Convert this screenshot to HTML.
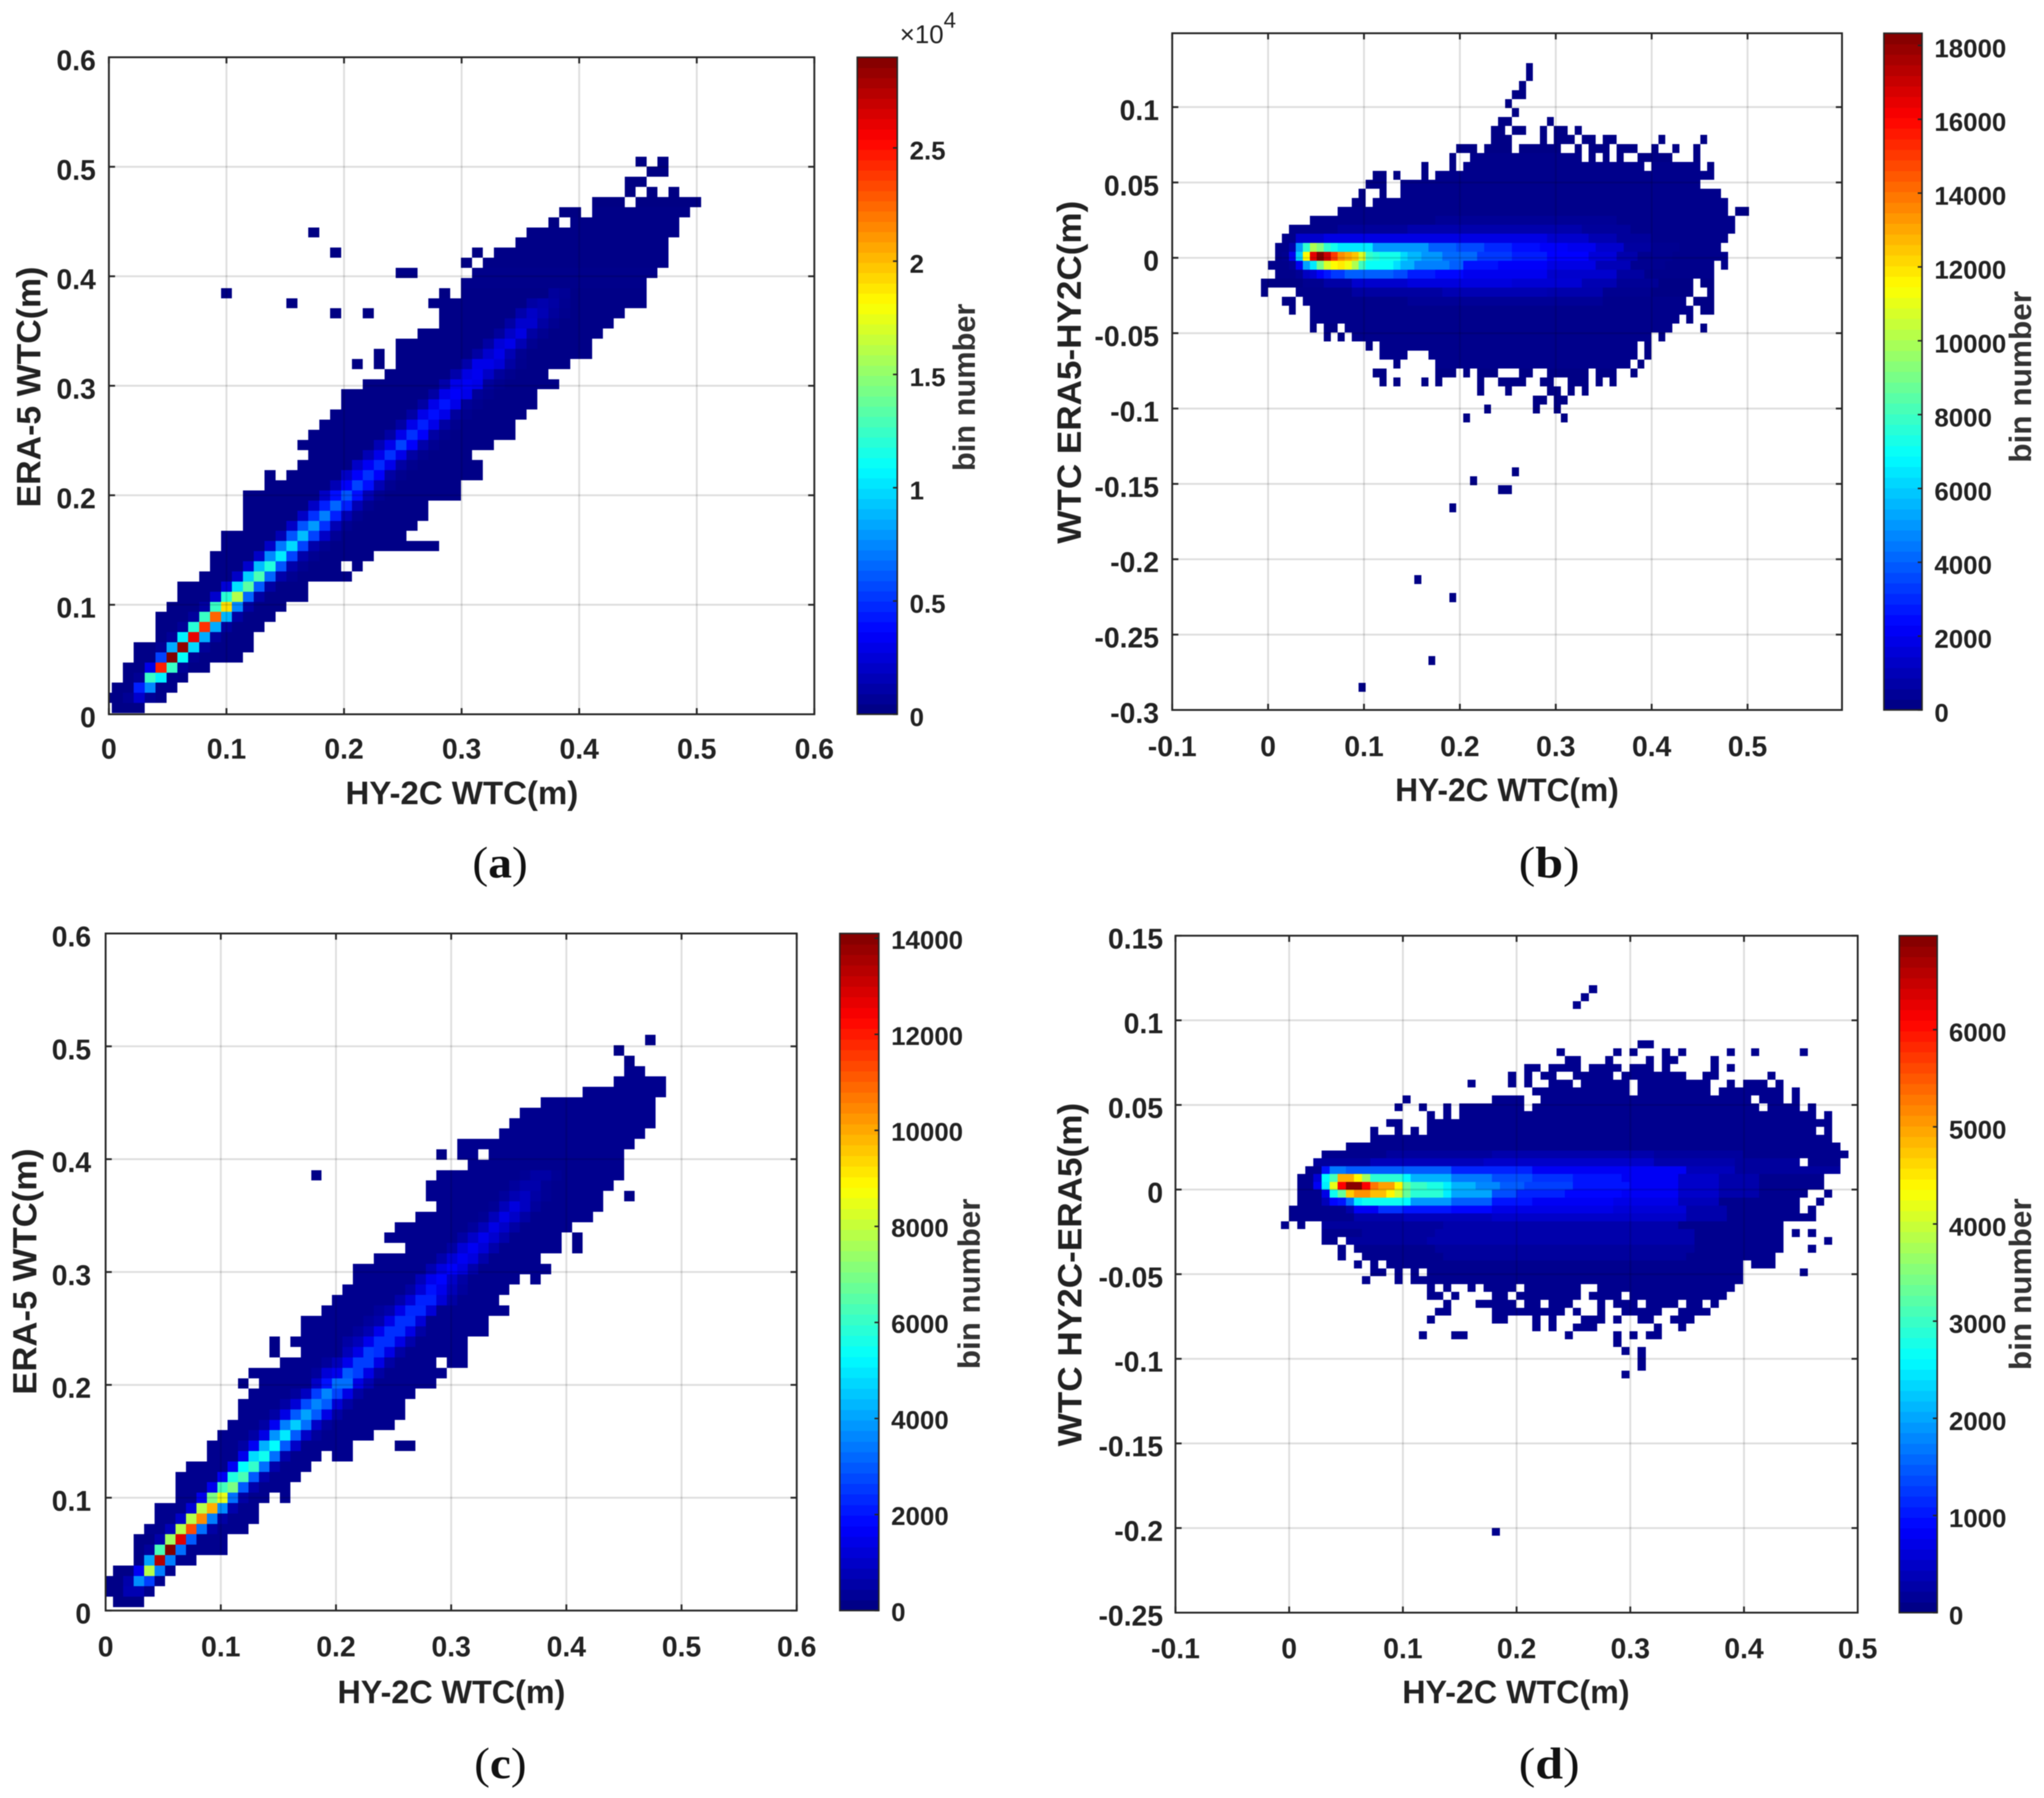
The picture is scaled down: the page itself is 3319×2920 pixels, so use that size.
<!DOCTYPE html>
<html lang="en">
<head>
<meta charset="utf-8">
<title>HY-2C and ERA-5 WTC density comparison</title>
<style>
html,body{margin:0;padding:0;background:#fff;}
svg{display:block;filter:blur(0.9px);}
text{font-family:"Liberation Sans",sans-serif;fill:#222;}
.tick{font-size:46px;font-weight:700;}
.cb{font-size:42px;font-weight:700;}
.xt{font-size:53px;font-weight:700;}
.yt{font-size:55px;font-weight:700;}
.bn{font-size:50px;font-weight:700;fill:#333;}
.cap{font-family:"Liberation Serif",serif;font-size:72px;fill:#111;}
</style>
</head>
<body>
<svg xmlns="http://www.w3.org/2000/svg" width="3319" height="2920" viewBox="0 0 3319 2920">
<rect x="0" y="0" width="3319" height="2920" fill="#fff"/>

<g id="panel-a"></g>
<g id="panel-b"></g>
<g id="panel-c"></g>
<g id="panel-d"></g>

<text class="xt" x="750" y="1306" text-anchor="middle" textLength="378" lengthAdjust="spacingAndGlyphs">HY-2C WTC(m)</text>
<text class="yt" transform="translate(65.6 628.5) rotate(-90)" text-anchor="middle" textLength="391" lengthAdjust="spacingAndGlyphs">ERA-5 WTC(m)</text>
<text class="bn" transform="translate(1583 629) rotate(-90)" text-anchor="middle" textLength="272" lengthAdjust="spacingAndGlyphs">bin number</text>
<text x="1461" y="70" font-size="42">×10<tspan dy="-25" font-size="36">4</tspan></text>
<text class="cap" x="767" y="1425" textLength="90" lengthAdjust="spacingAndGlyphs">(<tspan font-weight="700">a</tspan>)</text>

<text class="xt" x="2447" y="1301" text-anchor="middle" textLength="363" lengthAdjust="spacingAndGlyphs">HY-2C WTC(m)</text>
<text class="yt" transform="translate(1755 604.5) rotate(-90)" text-anchor="middle" textLength="557" lengthAdjust="spacingAndGlyphs">WTC ERA5-HY2C(m)</text>
<text class="bn" transform="translate(3298 612) rotate(-90)" text-anchor="middle" textLength="279" lengthAdjust="spacingAndGlyphs">bin number</text>
<text class="cap" x="2466" y="1425" textLength="99" lengthAdjust="spacingAndGlyphs">(<tspan font-weight="700">b</tspan>)</text>

<text class="xt" x="733" y="2766" text-anchor="middle" textLength="370" lengthAdjust="spacingAndGlyphs">HY-2C WTC(m)</text>
<text class="yt" transform="translate(59 2065) rotate(-90)" text-anchor="middle" textLength="400" lengthAdjust="spacingAndGlyphs">ERA-5 WTC(m)</text>
<text class="bn" transform="translate(1591 2085) rotate(-90)" text-anchor="middle" textLength="277" lengthAdjust="spacingAndGlyphs">bin number</text>
<text class="cap" x="770" y="2888" textLength="85" lengthAdjust="spacingAndGlyphs">(<tspan font-weight="700">c</tspan>)</text>

<text class="xt" x="2461.5" y="2766" text-anchor="middle" textLength="369" lengthAdjust="spacingAndGlyphs">HY-2C WTC(m)</text>
<text class="yt" transform="translate(1756 2070) rotate(-90)" text-anchor="middle" textLength="558" lengthAdjust="spacingAndGlyphs">WTC HY2C-ERA5(m)</text>
<text class="bn" transform="translate(3298 2085.6) rotate(-90)" text-anchor="middle" textLength="279" lengthAdjust="spacingAndGlyphs">bin number</text>
<text class="cap" x="2466" y="2888" textLength="99" lengthAdjust="spacingAndGlyphs">(<tspan font-weight="700">d</tspan>)</text>
</svg>

<script>
// Bin counts are in hundreds. Each row: [rowIndex, startColumn, run, count, run, count, ...]; count 0 = empty bin.
const countUnit = 100;

const aXTicks = [0, 0.1, 0.2, 0.3, 0.4, 0.5, 0.6];
const aXLabels = ['0', '0.1', '0.2', '0.3', '0.4', '0.5', '0.6'];
const aYTicks = [0, 0.1, 0.2, 0.3, 0.4, 0.5, 0.6];
const aYLabels = ['0', '0.1', '0.2', '0.3', '0.4', '0.5', '0.6'];
const aCbarTicks = [0, 5000, 10000, 15000, 20000, 25000];
const aCbarLabels = ['0', '0.5', '1', '1.5', '2', '2.5'];
const aRows = [
[0,0,3,2],[1,-1,2,2,1,6,1,22,1,6,1,3],[2,0,2,2,1,45,1,75,2,3],[3,1,1,2,1,6,1,125,1,105,1,3,1,2],
[4,1,2,2,1,30,1,245,1,125,1,6,2,2],[5,2,2,2,1,55,1,290,1,110,1,5,4,2],[6,2,2,2,1,6,1,85,1,285,1,98,1,7,4,2],
[7,4,1,2,1,7,1,105,1,260,1,85,1,8,3,2],[8,4,2,2,1,7,1,120,1,240,1,85,1,8,3,2],[9,4,3,2,1,8,1,125,1,225,1,88,1,10,3,2],
[10,5,3,2,1,10,1,125,1,190,1,75,1,10,3,2],[11,6,3,2,1,22,1,120,1,160,1,65,1,10,4,2],[12,6,4,2,1,25,1,100,1,135,1,62,1,10,3,2],
[13,8,3,2,1,20,1,95,1,130,1,65,1,12,1,5,5,2],[14,9,3,2,1,22,1,90,1,118,1,60,1,12,1,5,3,2,1,0,1,2],
[15,9,4,2,1,20,1,75,1,103,1,55,1,12,1,5,5,2],[16,10,4,2,1,20,1,70,1,98,1,55,1,12,1,5,10,2],
[17,10,5,2,1,15,1,60,1,90,1,55,1,20,1,6,6,2],[18,12,4,2,1,20,1,60,1,80,1,50,1,15,1,5,6,2],
[19,12,5,2,1,20,1,50,1,72,1,45,1,15,1,5,6,2],[20,12,6,2,1,20,1,45,1,65,1,45,1,15,1,5,5,2],
[21,12,7,2,1,20,1,40,1,60,1,40,1,15,1,5,7,2],[22,14,6,2,1,15,1,35,1,55,1,40,1,15,1,5,6,2],
[23,14,1,2,1,0,5,2,1,20,1,35,1,50,1,35,1,10,1,4,7,2],[24,17,5,2,1,20,1,33,1,48,1,30,1,10,1,4,6,2],
[25,18,5,2,1,15,1,30,1,50,1,30,1,10,1,4,4,2],[26,17,7,2,1,15,1,30,1,55,1,35,1,12,1,5,5,2],
[27,18,7,2,1,10,1,30,1,50,1,35,1,10,1,4,6,2],[28,19,7,2,1,10,1,30,1,45,1,30,1,10,1,4,5,2],
[29,20,7,2,1,10,1,30,1,40,1,30,1,8,1,4,5,2],[30,21,7,2,1,10,1,30,1,42,1,30,1,7,1,4,5,2],
[31,21,8,2,1,10,1,30,1,35,1,30,1,7,1,4,4,2],[32,23,7,2,1,12,1,30,1,33,1,30,1,8,1,4,5,2],
[33,25,6,2,1,12,1,28,1,32,1,20,1,8,1,4,3,2],[34,22,1,1,1,0,1,1,1,0,6,2,1,12,1,30,1,30,1,25,1,10,1,4,4,2],
[35,24,1,1,1,0,7,2,1,10,1,22,1,30,1,15,1,5,6,2],[36,26,8,2,1,10,1,25,1,30,1,15,1,5,5,2],
[37,28,7,2,1,8,1,20,1,28,1,10,1,5,5,2],[38,30,6,2,1,10,1,22,1,22,1,10,1,5,5,2],
[39,20,1,1,2,0,1,1,6,0,7,2,1,12,1,20,1,15,1,8,1,4,5,2],[40,16,1,1,12,0,9,2,1,10,1,13,1,10,1,5,7,2],
[41,10,1,1,19,0,1,1,1,0,8,2,1,8,1,6,7,2],[42,32,17,3],[43,26,2,2,5,0,17,3],[44,32,1,1,1,0,17,2],
[45,20,1,1,12,0,1,1,1,0,16,2],[46,37,14,2],[47,18,1,1,19,0,14,2],[48,40,1,1,1,0,10,2],[49,41,2,1,1,0,9,2],
[50,44,3,1,1,0,6,1],[51,47,1,1,1,0,1,1,1,0,1,1],[52,47,2,1],[53,49,2,1],[54,48,1,1,1,0,1,1]
];

const bXTicks = [-0.1, 0, 0.1, 0.2, 0.3, 0.4, 0.5];
const bXLabels = ['-0.1', '0', '0.1', '0.2', '0.3', '0.4', '0.5'];
const bYTicks = [-0.3, -0.25, -0.2, -0.15, -0.1, -0.05, 0, 0.05, 0.1];
const bYLabels = ['-0.3', '-0.25', '-0.2', '-0.15', '-0.1', '-0.05', '0', '0.05', '0.1'];
const bCbarTicks = [0, 2000, 4000, 6000, 8000, 10000, 12000, 14000, 16000, 18000];
const bCbarLabels = ['0', '2000', '4000', '6000', '8000', '10000', '12000', '14000', '16000', '18000'];
const bRows = [
[25,38,1,1],[24,38,1,1],[23,37,1,1],[22,36,2,1],[21,35,1,1],[20,36,1,1],[19,34,2,1,5,0,1,1],
[18,33,2,1,1,0,2,1,2,0,1,1,1,0,2,1,1,0,1,1],
[17,33,3,1,4,0,1,1,1,0,3,1,1,0,2,1,1,0,2,1,6,0,1,1,5,0,1,1],
[16,28,3,1,1,0,4,1,1,0,6,1,2,0,1,1,1,0,3,1,1,0,3,1,2,0,1,1,2,0,1,1,2,0,1,1],
[15,27,1,1,2,0,16,2,1,0,1,1,1,0,1,1,1,0,1,1,2,0,5,1,3,0,1,1],
[14,23,1,1,3,0,1,1,1,0,26,2,1,0,7,2,1,0,1,1],[13,16,2,1,1,0,1,1,3,0,1,1,1,0,40,2],
[12,15,3,1,2,0,43,2],[11,14,1,1,2,0,1,1,2,0,46,2],[10,13,2,1,1,0,51,2],[9,11,56,2,1,0,2,1],
[8,7,18,2,26,4,17,2],[7,4,7,2,10,5,25,8,7,5,15,2],[6,3,2,2,4,14,32,18,6,14,4,9,5,5,11,2],
[5,2,2,2,1,8,1,51,1,77,1,100,1,92,1,77,1,72,5,65,8,50,4,40,4,36,4,30,4,25,4,22,4,20,4,14,4,6,4,3,6,2],
[4,2,1,2,1,3,1,20,1,60,1,115,1,165,1,183,1,170,1,150,1,135,1,130,1,125,1,108,1,78,1,75,3,72,1,62,2,56,3,50,5,42,5,33,5,28,6,23,4,16,3,8,5,3,8,2],
[3,1,3,2,1,4,1,20,1,52,1,65,1,90,1,108,1,115,1,118,1,112,1,100,1,80,4,70,1,63,2,55,5,46,2,40,5,26,7,22,7,18,5,10,5,3,7,2,1,0,1,2],
[2,2,3,2,1,4,1,12,1,15,1,22,1,27,2,33,7,40,2,36,4,28,4,24,12,20,10,14,4,6,10,2],
[1,0,6,1,3,3,4,7,8,14,15,17,10,15,5,9,6,4,5,1,1,0,2,1],
[0,0,1,1,4,0,8,2,13,6,15,9,8,8,7,3,6,1,2,0,1,1],
[-1,3,2,1,1,0,15,2,28,4,12,2,1,0,3,1],[-2,4,1,1,2,0,55,2,1,0,2,1],[-3,7,53,2,1,0,1,1],
[-4,7,1,1,1,0,2,1,1,0,47,2,4,0,1,1],[-5,9,1,1,1,0,1,1,1,0,43,2,1,0,1,1],[-6,15,1,1,1,0,37,2,1,0,1,1],
[-7,17,4,2,3,0,30,2,1,0,1,1],[-8,19,1,1,5,0,28,2,1,0,1,1],
[-9,16,2,1,7,0,3,1,1,0,1,1,1,0,3,1,3,0,2,1,2,0,6,1,1,0,3,1,2,0,1,1],
[-10,17,1,1,1,0,1,1,3,0,1,1,1,0,1,1,5,0,1,1,2,0,4,1,2,0,2,1,2,0,3,1,1,0,1,1,1,0,1,1],
[-11,31,1,1,3,0,1,1,5,0,2,1,1,0,1,1,1,0,1,1],[-12,39,2,1,1,0,2,1],[-13,32,1,1,6,0,1,1,2,0,1,1],
[-14,29,1,1,13,0,1,1],[-20,36,1,1],[-21,30,1,1],[-22,34,2,1],[-24,27,1,1],[-32,22,1,1],[-34,27,1,1],[-41,24,1,1],[-44,14,1,1]
];

const cXTicks = [0, 0.1, 0.2, 0.3, 0.4, 0.5, 0.6];
const cXLabels = ['0', '0.1', '0.2', '0.3', '0.4', '0.5', '0.6'];
const cYTicks = [0, 0.1, 0.2, 0.3, 0.4, 0.5, 0.6];
const cYLabels = ['0', '0.1', '0.2', '0.3', '0.4', '0.5', '0.6'];
const cCbarTicks = [0, 2000, 4000, 6000, 8000, 10000, 12000, 14000];
const cCbarLabels = ['0', '2000', '4000', '6000', '8000', '10000', '12000', '14000'];
const cRows = [
[0,0,3,1],[1,-1,2,1,2,7,1,2],[2,-1,2,1,1,6,1,37,1,26,1,2],[3,0,2,1,1,16,1,78,1,35,1,2],
[4,2,1,1,1,40,1,134,1,35,2,2],[5,2,1,1,1,4,1,63,1,141,1,33,4,2],[6,2,2,1,1,6,1,75,1,128,1,30,3,2],
[7,3,2,2,1,8,1,78,1,113,1,33,1,5,3,2],[8,4,2,2,1,10,1,78,1,104,1,35,1,5,3,2],[9,4,3,2,1,12,1,78,1,99,1,37,1,6,2,2],
[10,6,2,2,1,15,1,70,1,85,1,33,1,5,2,2,1,0,1,2],[11,6,3,2,1,15,1,62,1,70,1,30,1,6,3,2],[12,6,4,2,1,16,1,57,1,63,1,30,1,6,3,2],
[13,7,4,2,1,16,1,53,1,60,1,33,1,6,3,2],[14,9,3,2,1,15,1,48,1,55,1,33,1,6,3,2,1,0,2,2],
[15,9,3,2,1,5,1,16,1,42,1,53,1,30,1,10,5,2,4,0,2,1],[16,10,3,2,1,5,1,14,1,38,1,50,1,30,1,10,1,4,5,2],
[17,11,3,2,1,5,1,16,1,35,1,46,1,33,1,10,1,4,6,2],[18,12,3,2,1,5,1,14,1,30,1,40,1,30,1,14,1,5,6,2],
[19,12,4,2,1,5,1,12,1,28,1,36,1,30,1,12,1,5,5,2],[20,13,4,2,1,4,1,9,1,26,1,36,1,27,1,14,1,5,5,2],
[21,12,1,1,1,0,5,2,1,10,1,20,1,33,1,33,1,14,1,7,6,2],[22,13,6,2,1,4,1,12,1,15,1,30,1,26,1,14,1,5,6,2],
[23,16,4,2,1,4,1,8,1,15,1,26,1,26,1,14,1,5,4,2,1,0,2,2],[24,15,1,1,2,0,4,2,1,8,1,14,1,26,1,24,1,14,1,5,6,2],
[25,15,1,1,1,0,5,2,1,5,1,8,1,15,1,24,1,24,1,14,1,6,5,2],[26,18,5,2,1,4,1,7,1,15,1,24,1,24,1,14,1,5,6,2],
[27,18,6,2,1,4,1,6,1,14,1,24,1,24,1,12,6,2],[28,20,5,2,1,4,1,6,1,14,1,23,1,23,1,12,7,2],
[29,21,6,2,1,6,1,12,1,22,1,22,1,12,1,5,4,2],[30,22,6,2,1,5,1,12,1,20,1,15,1,8,1,4,4,2],
[31,23,6,2,1,8,1,15,1,18,1,10,1,5,5,2,1,0,1,2],[32,23,7,2,1,7,1,13,1,17,1,13,1,6,7,2],
[33,25,6,2,1,6,1,12,1,16,1,13,1,6,5,2],[34,28,4,2,1,5,1,12,1,16,1,12,1,6,6,2,1,0,1,1],
[35,26,7,2,1,5,1,10,1,15,1,11,1,6,5,2,1,0,1,1],[36,27,7,2,1,4,1,8,1,14,1,10,1,5,5,2],
[37,29,6,2,1,3,1,8,1,14,1,10,1,5,6,2],[38,31,5,2,1,3,1,8,1,13,1,9,1,4,6,2],
[39,30,7,2,1,4,1,7,1,9,1,5,1,3,5,2,2,0,1,1],[40,30,8,2,1,4,1,6,1,6,1,3,6,2],
[41,19,1,1,11,0,8,2,1,3,2,5,1,3,6,2],
[42,34,15,2],[43,31,1,1,1,0,2,2,1,0,13,2],[44,33,17,2],[45,37,14,2],[46,38,14,2],[47,39,13,2],[48,41,11,2],
[49,45,8,2],[50,48,5,2],[51,49,2,2],[52,49,1,1],[53,48,1,1],[54,51,1,1]
];

const dXTicks = [-0.1, 0, 0.1, 0.2, 0.3, 0.4, 0.5];
const dXLabels = ['-0.1', '0', '0.1', '0.2', '0.3', '0.4', '0.5'];
const dYTicks = [-0.25, -0.2, -0.15, -0.1, -0.05, 0, 0.05, 0.1, 0.15];
const dYLabels = ['-0.25', '-0.2', '-0.15', '-0.1', '-0.05', '0', '0.05', '0.1', '0.15'];
const dCbarTicks = [0, 1000, 2000, 3000, 4000, 5000, 6000];
const dCbarLabels = ['0', '1000', '2000', '3000', '4000', '5000', '6000'];
const dRows = [
[29,38,1,1],[28,37,1,1],[27,36,1,1],[22,44,2,1],
[21,34,1,1,6,0,1,1,1,0,1,1,3,0,1,1,1,0,1,1,5,0,1,1,2,0,1,1,5,0,1,1],
[20,35,2,1,3,0,1,1,4,0,1,1,1,0,2,1,4,0,1,1],
[19,30,2,1,1,0,4,1,1,0,4,1,1,0,3,1,1,0,1,1,5,0,1,1,1,0,1,1],
[18,28,1,1,1,0,1,1,1,0,2,1,2,0,5,1,1,0,8,1,2,0,2,1,6,0,1,1],
[17,23,1,1,4,0,1,1,1,0,1,1,2,0,3,1,1,0,6,1,1,0,9,1,2,0,1,1,1,0,3,1,1,0,1,1],
[16,31,12,1,1,0,9,1,1,0,8,1,1,0,1,1],
[15,15,1,1,10,0,4,1,2,0,26,1,1,0,3,1,1,0,1,1],
[14,14,1,1,2,0,1,1,2,0,1,1,1,0,8,1,1,0,28,1,1,0,4,1,1,0,1,1],
[13,18,1,1,1,0,1,1,1,0,44,1,1,0,1,1],[12,13,2,1,3,0,50,1],
[11,11,1,1,2,0,1,1,1,0,1,1,1,0,48,1,1,0,1,1],[10,11,57,1],[9,8,61,1],
[8,5,8,1,13,2,20,3,11,2,13,1],[7,4,7,2,14,4,21,5,10,3,8,2,1,0,4,1],
[6,3,2,1,1,10,2,17,13,15,10,11,19,8,6,4,13,2],
[5,2,2,1,1,6,1,26,1,31,2,49,1,44,1,37,4,29,1,26,5,21,5,17,5,14,5,12,6,10,7,8,5,5,5,3,8,1],
[4,2,2,1,1,8,1,25,1,42,1,61,2,69,1,61,1,53,2,50,1,44,1,33,2,30,2,28,1,25,3,21,3,18,3,15,6,13,7,10,6,8,5,5,5,3,8,1],
[3,2,3,1,1,7,1,27,1,33,1,47,2,51,2,48,1,44,1,40,1,33,4,29,1,25,5,20,3,14,6,11,7,9,7,8,5,5,5,3,6,1,2,0,1,1],
[2,2,3,1,1,4,1,9,1,10,1,16,1,25,5,27,1,26,5,19,5,15,5,10,10,8,8,7,5,4,10,1,2,0,1,1],
[1,1,7,1,1,3,3,8,3,12,6,10,5,9,15,7,9,6,5,3,9,1,1,0,1,1],
[0,1,8,1,6,3,11,4,15,5,9,5,5,3,11,1],
[-1,0,1,1,1,0,1,1,2,0,15,2,29,3,13,1],[-2,5,5,1,9,2,32,3,11,1,1,0,1,1,1,0,1,1],
[-3,5,2,1,1,0,10,2,33,3,11,1,5,0,1,1],[-4,7,1,1,1,0,10,1,32,2,11,1,3,0,1,1],
[-5,7,1,1,2,0,10,1,30,2,11,1],[-6,9,1,1,1,0,1,1,1,0,44,1,1,0,3,1],
[-7,11,2,1,1,0,1,1,1,0,1,1,1,0,39,1,7,0,1,1],[-8,10,1,1,3,0,1,1,1,0,41,1],
[-9,18,1,1,1,0,1,1,2,0,1,1,1,0,4,1,1,0,7,1,2,0,17,1],
[-10,18,2,1,1,0,1,1,4,0,2,1,1,0,8,1,1,0,4,1,1,0,12,1],
[-11,20,1,1,3,0,5,1,1,0,2,1,1,0,3,1,3,0,1,1,1,0,3,1,1,0,4,1,1,0,2,1,1,0,1,1],
[-12,19,2,1,5,0,9,1,1,0,1,1,2,0,1,1,2,0,5,1,2,0,4,1],
[-13,18,1,1,7,0,2,1,3,0,1,1,1,0,1,1,3,0,3,1,1,0,1,1,2,0,2,1,2,0,3,1],
[-14,31,1,1,1,0,1,1,2,0,3,1,7,0,1,1,2,0,1,1],
[-15,17,1,1,3,0,2,1,12,0,1,1,5,0,1,1,1,0,1,1,1,0,2,1],
[-16,41,1,1],[-17,42,1,1,1,0,1,1],[-18,44,1,1],[-19,44,1,1],[-20,42,1,1],[-40,26,1,1]
];

const SVG_NS = 'http://www.w3.org/2000/svg';

function jet(t) {
  const c = function (v) { return Math.round(255 * Math.max(0, Math.min(1, v))); };
  const r = Math.min(4 * t - 1.5, -4 * t + 4.5);
  const g = Math.min(4 * t - 0.5, -4 * t + 3.5);
  const b = Math.min(4 * t + 0.5, -4 * t + 2.5);
  return 'rgb(' + c(r) + ',' + c(g) + ',' + c(b) + ')';
}

function make(tag, parent) {
  const node = document.createElementNS(SVG_NS, tag);
  parent.appendChild(node);
  return node;
}

function drawPanel(p) {
  const root = document.getElementById(p.id);
  const xScale = function (v) { return p.left + (v - p.xMin) / (p.xMax - p.xMin) * (p.right - p.left); };
  const yScale = function (v) { return p.bottom - (v - p.yMin) / (p.yMax - p.yMin) * (p.bottom - p.top); };
  const cbScale = function (v) { return p.bottom - v / p.cbMax * (p.bottom - p.top); };

  const clip = make('clipPath', root);
  clip.setAttribute('id', p.id + '-clip');
  const clipRect = make('rect', clip);
  clipRect.setAttribute('x', p.left);
  clipRect.setAttribute('y', p.top);
  clipRect.setAttribute('width', p.right - p.left);
  clipRect.setAttribute('height', p.bottom - p.top);

  const heat = make('g', root);
  heat.setAttribute('clip-path', 'url(#' + p.id + '-clip)');
  heat.setAttribute('shape-rendering', 'crispEdges');
  
  
  p.rows.forEach(function (row) {
    const n = row[0];
    let col = row[1];
    for (let i = 2; i < row.length; i += 2) {
      for (let k = 0; k < row[i]; k++, col++) {
        const count = row[i + 1] * countUnit;
        if (count <= 0) continue;
        const x0 = xScale(p.binX0 + col * p.binW);
        const x1 = xScale(p.binX0 + (col + 1) * p.binW);
        const y0 = yScale(p.binY0 + (n + 1) * p.binH);
        const y1 = yScale(p.binY0 + n * p.binH);
        const cell = make('rect', heat);
        cell.setAttribute('x', x0);
        cell.setAttribute('y', y0);
        cell.setAttribute('width', x1 - x0);
        cell.setAttribute('height', y1 - y0);
        cell.setAttribute('fill', jet(Math.min(1, count / p.cbMax)));
        
        
      }
    }
  });

  p.xTicks.forEach(function (v, i) {
    const x = xScale(v);
    if (x > p.left + 2 && x < p.right - 2) {
      const g = make('line', root);
      g.setAttribute('x1', x); g.setAttribute('x2', x);
      g.setAttribute('y1', p.top); g.setAttribute('y2', p.bottom);
      g.setAttribute('stroke', 'rgba(0,0,0,0.13)');
      g.setAttribute('stroke-width', 3);
      
      
    }
    [[p.bottom, p.bottom - 10], [p.top, p.top + 10]].forEach(function (e) {
      const t = make('line', root);
      t.setAttribute('x1', x); t.setAttribute('x2', x);
      t.setAttribute('y1', e[0]); t.setAttribute('y2', e[1]);
      t.setAttribute('stroke', '#262626');
      t.setAttribute('stroke-width', 3);
      
      
    });
    const label = make('text', root);
    label.setAttribute('class', 'tick');
    label.setAttribute('x', x);
    label.setAttribute('y', p.xLabelY);
    label.setAttribute('text-anchor', 'middle');
    label.textContent = p.xLabels[i];
    
    
  });

  p.yTicks.forEach(function (v, i) {
    const y = yScale(v);
    if (y > p.top + 2 && y < p.bottom - 2) {
      const g = make('line', root);
      g.setAttribute('x1', p.left); g.setAttribute('x2', p.right);
      g.setAttribute('y1', y); g.setAttribute('y2', y);
      g.setAttribute('stroke', 'rgba(0,0,0,0.13)');
      g.setAttribute('stroke-width', 3);
      
      
    }
    [[p.left, p.left + 10], [p.right, p.right - 10]].forEach(function (e) {
      const t = make('line', root);
      t.setAttribute('x1', e[0]); t.setAttribute('x2', e[1]);
      t.setAttribute('y1', y); t.setAttribute('y2', y);
      t.setAttribute('stroke', '#262626');
      t.setAttribute('stroke-width', 3);
      
      
    });
    const label = make('text', root);
    label.setAttribute('class', 'tick');
    label.setAttribute('x', p.yLabelX);
    label.setAttribute('y', y + 21);
    label.setAttribute('text-anchor', 'end');
    label.textContent = p.yLabels[i];
    
    
  });

  const frame = make('rect', root);
  frame.setAttribute('x', p.left);
  frame.setAttribute('y', p.top);
  frame.setAttribute('width', p.right - p.left);
  frame.setAttribute('height', p.bottom - p.top);
  frame.setAttribute('fill', 'none');
  frame.setAttribute('stroke', '#262626');
  frame.setAttribute('stroke-width', 3);
  
  

  const bar = make('g', root);
  bar.setAttribute('shape-rendering', 'crispEdges');
  
  
  const levels = 64;
  for (let i = 0; i < levels; i++) {
    const band = make('rect', bar);
    const yA = p.bottom - (i + 1) / levels * (p.bottom - p.top);
    band.setAttribute('x', p.cbLeft);
    band.setAttribute('y', yA);
    band.setAttribute('width', p.cbRight - p.cbLeft);
    band.setAttribute('height', (p.bottom - p.top) / levels + 0.6);
    band.setAttribute('fill', jet((i + 0.5) / levels));
    
    
  }
  const barFrame = make('rect', root);
  barFrame.setAttribute('x', p.cbLeft);
  barFrame.setAttribute('y', p.top);
  barFrame.setAttribute('width', p.cbRight - p.cbLeft);
  barFrame.setAttribute('height', p.bottom - p.top);
  barFrame.setAttribute('fill', 'none');
  barFrame.setAttribute('stroke', '#262626');
  barFrame.setAttribute('stroke-width', 2.5);
  
  

  p.cbTicks.forEach(function (v, i) {
    const y = cbScale(v);
    const t = make('line', root);
    t.setAttribute('x1', p.cbRight);
    t.setAttribute('x2', p.cbRight - 7);
    t.setAttribute('y1', y);
    t.setAttribute('y2', y);
    t.setAttribute('stroke', '#262626');
    t.setAttribute('stroke-width', 2.5);
    
    
    const label = make('text', root);
    label.setAttribute('class', 'cb');
    label.setAttribute('x', p.cbLabelX);
    label.setAttribute('y', y + p.cbLabelDy);
    label.textContent = p.cbLabels[i];
    
    
  });
}

drawPanel({id:'panel-a', rows:aRows, xTicks:aXTicks, xLabels:aXLabels, yTicks:aYTicks, yLabels:aYLabels,
  cbTicks:aCbarTicks, cbLabels:aCbarLabels, cbMax:29000, cbLabelDy:19,
  left:176.8, right:1322.3, top:93, bottom:1160, xMin:0, xMax:0.6, yMin:0, yMax:0.6,
  binX0:0.00257, binW:0.00928, binY0:0.00112, binH:0.00924,
  xLabelY:1232, yLabelX:155.6, cbLeft:1392, cbRight:1457, cbLabelX:1477});
drawPanel({id:'panel-b', rows:bRows, xTicks:bXTicks, xLabels:bXLabels, yTicks:bYTicks, yLabels:bYLabels,
  cbTicks:bCbarTicks, cbLabels:bCbarLabels, cbMax:18330, cbLabelDy:19,
  left:1903.4, right:2991, top:54, bottom:1153, xMin:-0.1, xMax:0.5985, yMin:-0.3, yMax:0.149,
  binX0:-0.00736, binW:0.00727, binY0:-0.02578, binH:0.00596,
  xLabelY:1228, yLabelX:1882, cbLeft:3059, cbRight:3121, cbLabelX:3141});
drawPanel({id:'panel-c', rows:cRows, xTicks:cXTicks, xLabels:cXLabels, yTicks:cYTicks, yLabels:cYLabels,
  cbTicks:cCbarTicks, cbLabels:cCbarLabels, cbMax:14100, cbLabelDy:17,
  left:171.5, right:1293.7, top:1516, bottom:2615.6, xMin:0, xMax:0.6, yMin:0, yMax:0.6,
  binX0:0.00631, binW:0.00906, binY0:0.00306, binH:0.00922,
  xLabelY:2690, yLabelX:148, cbLeft:1363.6, cbRight:1427, cbLabelX:1447});
drawPanel({id:'panel-d', rows:dRows, xTicks:dXTicks, xLabels:dXLabels, yTicks:dYTicks, yLabels:dYLabels,
  cbTicks:dCbarTicks, cbLabels:dCbarLabels, cbMax:6967, cbLabelDy:19,
  left:1908.7, right:3016.5, top:1519.6, bottom:2619, xMin:-0.1, xMax:0.5, yMin:-0.25, yMax:0.15,
  binX0:-0.00722, binW:0.00713, binY0:-0.01871, binH:0.004646,
  xLabelY:2693, yLabelX:1888.6, cbLeft:3084, cbRight:3145.6, cbLabelX:3164.6});
</script>
</body>
</html>
